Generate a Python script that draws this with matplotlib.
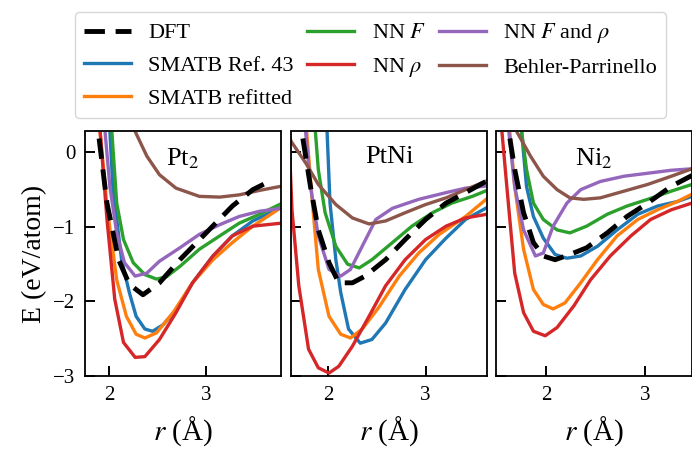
import matplotlib
matplotlib.use("Agg")
import matplotlib.pyplot as plt

plt.rcParams['font.family'] = ['Liberation Serif', 'DejaVu Serif']
plt.rcParams['mathtext.fontset'] = 'stix'

# panel titles and x ranges
titles = ["Pt$_2$", "PtNi", "Ni$_2$"]
xlims = [(1.754, 3.77), (1.62, 3.63), (1.49, 3.48)]

labels = ["DFT", "SMATB Ref. 43", "SMATB refitted", "NN $F$", "NN $\\rho$",
          "NN $F$ and $\\rho$", "Behler-Parrinello"]
colors = ["black", "#1f77b4", "#ff7f0e", "#2ca02c", "#d62728", "#9467bd", "#8c564b"]

# ---- Pt2 ----
pt2_dft_r = [1.86, 1.89, 1.98, 2.10, 2.21, 2.35, 2.52, 2.73, 3.00, 3.27, 3.48, 3.68]
pt2_dft_e = [0.60, 0.28, -0.68, -1.44, -1.77, -1.91, -1.75, -1.44, -1.08, -0.72, -0.50, -0.37]
pt2_ref_r = [2.00, 2.01, 2.04, 2.13, 2.21, 2.28, 2.37, 2.45, 2.56, 2.69, 2.86, 3.07, 3.27, 3.48, 3.77]
pt2_ref_e = [0.60, 0.28, -0.46, -1.44, -1.88, -2.20, -2.37, -2.40, -2.31, -2.11, -1.75, -1.39, -1.12, -0.92, -0.74]
pt2_refit_r = [1.89, 1.91, 1.98, 2.08, 2.18, 2.28, 2.37, 2.49, 2.66, 2.86, 3.07, 3.27, 3.48, 3.77]
pt2_refit_e = [0.55, 0.26, -0.72, -1.71, -2.20, -2.44, -2.49, -2.42, -2.15, -1.75, -1.44, -1.21, -0.99, -0.74]
pt2_nnf_r = [2.02, 2.03, 2.08, 2.15, 2.25, 2.37, 2.49, 2.59, 2.73, 2.93, 3.14, 3.34, 3.55, 3.77]
pt2_nnf_e = [0.50, 0.28, -0.68, -1.17, -1.48, -1.64, -1.70, -1.67, -1.53, -1.30, -1.12, -0.95, -0.83, -0.69]
pt2_nnrho_r = [1.89, 1.91, 1.98, 2.06, 2.15, 2.27, 2.37, 2.52, 2.69, 2.86, 3.07, 3.27, 3.48, 3.77]
pt2_nnrho_e = [0.60, 0.28, -0.90, -1.97, -2.55, -2.75, -2.74, -2.51, -2.15, -1.75, -1.39, -1.12, -0.99, -0.95]
pt2_nnfrho_r = [1.95, 1.96, 2.01, 2.08, 2.16, 2.27, 2.39, 2.52, 2.73, 2.93, 3.14, 3.34, 3.55, 3.77]
pt2_nnfrho_e = [0.50, 0.28, -0.46, -1.08, -1.48, -1.66, -1.62, -1.46, -1.28, -1.10, -0.97, -0.86, -0.79, -0.75]
pt2_bp_r = [2.20, 2.27, 2.39, 2.52, 2.69, 2.93, 3.14, 3.34, 3.55, 3.77]
pt2_bp_e = [0.50, 0.28, -0.05, -0.30, -0.48, -0.59, -0.60, -0.57, -0.51, -0.455]

# ---- PtNi ----
ptni_dft_r = [1.70, 1.73, 1.82, 1.90, 2.01, 2.11, 2.25, 2.38, 2.59, 2.79, 3.00, 3.21, 3.41, 3.62]
ptni_dft_e = [0.60, 0.28, -0.46, -1.04, -1.48, -1.75, -1.75, -1.66, -1.44, -1.17, -0.90, -0.68, -0.54, -0.39]
ptni_ref_r = [1.98, 1.99, 2.02, 2.08, 2.13, 2.21, 2.33, 2.45, 2.59, 2.79, 3.00, 3.21, 3.41, 3.63]
ptni_ref_e = [0.60, 0.28, -0.68, -1.44, -1.88, -2.37, -2.56, -2.51, -2.29, -1.84, -1.44, -1.15, -0.90, -0.74]
ptni_refit_r = [1.76, 1.78, 1.84, 1.90, 2.01, 2.13, 2.23, 2.35, 2.52, 2.73, 2.93, 3.14, 3.41, 3.63]
ptni_refit_e = [0.60, 0.28, -0.68, -1.57, -2.20, -2.44, -2.49, -2.37, -2.08, -1.66, -1.35, -1.10, -0.86, -0.62]
ptni_nnf_r = [1.86, 1.87, 1.90, 1.97, 2.08, 2.20, 2.32, 2.45, 2.66, 2.86, 3.07, 3.27, 3.48, 3.63]
ptni_nnf_e = [0.50, 0.28, -0.23, -0.81, -1.26, -1.50, -1.55, -1.44, -1.21, -0.99, -0.81, -0.68, -0.59, -0.51]
ptni_nnrho_r = [1.58, 1.63, 1.70, 1.80, 1.90, 2.01, 2.11, 2.25, 2.42, 2.59, 2.79, 3.00, 3.21, 3.41, 3.63]
ptni_nnrho_e = [0.80, -0.77, -1.79, -2.64, -2.89, -2.96, -2.87, -2.60, -2.20, -1.79, -1.44, -1.17, -0.99, -0.88, -0.83]
ptni_nnfrho_r = [1.75, 1.77, 1.82, 1.90, 2.01, 2.13, 2.23, 2.35, 2.49, 2.66, 2.93, 3.21, 3.41, 3.63]
ptni_nnfrho_e = [0.60, 0.28, -0.46, -1.12, -1.57, -1.66, -1.57, -1.26, -0.90, -0.75, -0.63, -0.54, -0.48, -0.45]
ptni_bp_r = [1.55, 1.62, 1.77, 1.90, 2.08, 2.25, 2.42, 2.59, 2.79, 3.00, 3.21, 3.41, 3.63]
ptni_bp_e = [0.45, 0.15, -0.14, -0.43, -0.70, -0.88, -0.96, -0.92, -0.81, -0.70, -0.61, -0.50, -0.38]

# ---- Ni2 ----
ni2_dft_r = [1.59, 1.62, 1.68, 1.77, 1.87, 1.97, 2.09, 2.24, 2.41, 2.62, 2.82, 3.03, 3.27, 3.48]
ni2_dft_e = [0.60, 0.28, -0.23, -0.81, -1.21, -1.39, -1.44, -1.37, -1.28, -1.08, -0.86, -0.68, -0.455, -0.31]
ni2_ref_r = [1.73, 1.75, 1.80, 1.87, 1.97, 2.09, 2.21, 2.35, 2.52, 2.72, 2.93, 3.13, 3.33, 3.48]
ni2_ref_e = [0.60, 0.28, -0.46, -0.86, -1.15, -1.37, -1.42, -1.39, -1.26, -1.04, -0.83, -0.72, -0.66, -0.59]
ni2_refit_r = [1.61, 1.63, 1.68, 1.77, 1.87, 1.97, 2.07, 2.19, 2.35, 2.52, 2.72, 2.93, 3.13, 3.33, 3.48]
ni2_refit_e = [0.60, 0.28, -0.46, -1.30, -1.84, -2.04, -2.10, -2.02, -1.75, -1.44, -1.12, -0.90, -0.77, -0.66, -0.56]
ni2_nnf_r = [1.73, 1.75, 1.80, 1.87, 1.97, 2.11, 2.24, 2.41, 2.62, 2.82, 3.03, 3.27, 3.48]
ni2_nnf_e = [0.60, 0.28, -0.23, -0.68, -0.90, -1.04, -1.08, -0.99, -0.83, -0.72, -0.63, -0.52, -0.43]
ni2_nnrho_r = [1.53, 1.55, 1.60, 1.68, 1.77, 1.87, 1.99, 2.11, 2.28, 2.45, 2.65, 2.86, 3.06, 3.27, 3.48]
ni2_nnrho_e = [0.60, 0.28, -0.46, -1.62, -2.15, -2.40, -2.46, -2.35, -2.06, -1.71, -1.39, -1.12, -0.90, -0.77, -0.68]
ni2_nnfrho_r = [1.60, 1.62, 1.68, 1.77, 1.89, 1.97, 2.07, 2.21, 2.35, 2.55, 2.79, 3.03, 3.27, 3.48]
ni2_nnfrho_e = [0.60, 0.28, -0.46, -1.04, -1.39, -1.35, -0.99, -0.68, -0.50, -0.39, -0.32, -0.28, -0.24, -0.22]
ni2_bp_r = [1.65, 1.70, 1.84, 1.97, 2.11, 2.24, 2.38, 2.55, 2.79, 3.03, 3.27, 3.48]
ni2_bp_e = [0.50, 0.28, -0.05, -0.32, -0.50, -0.61, -0.63, -0.61, -0.52, -0.43, -0.32, -0.22]

panels = [
    [(pt2_dft_r, pt2_dft_e), (pt2_ref_r, pt2_ref_e), (pt2_refit_r, pt2_refit_e),
     (pt2_nnf_r, pt2_nnf_e), (pt2_nnrho_r, pt2_nnrho_e), (pt2_nnfrho_r, pt2_nnfrho_e),
     (pt2_bp_r, pt2_bp_e)],
    [(ptni_dft_r, ptni_dft_e), (ptni_ref_r, ptni_ref_e), (ptni_refit_r, ptni_refit_e),
     (ptni_nnf_r, ptni_nnf_e), (ptni_nnrho_r, ptni_nnrho_e), (ptni_nnfrho_r, ptni_nnfrho_e),
     (ptni_bp_r, ptni_bp_e)],
    [(ni2_dft_r, ni2_dft_e), (ni2_ref_r, ni2_ref_e), (ni2_refit_r, ni2_refit_e),
     (ni2_nnf_r, ni2_nnf_e), (ni2_nnrho_r, ni2_nnrho_e), (ni2_nnfrho_r, ni2_nnfrho_e),
     (ni2_bp_r, ni2_bp_e)],
]

fig = plt.figure(figsize=(6.92, 4.5), dpi=100)
lefts = [85 / 692, 291 / 692, 496 / 692]
w = 196 / 692
bottom = 1 - 376 / 450
h = (376 - 131.5) / 450

handles = []
for i in range(3):
    ax = fig.add_axes([lefts[i], bottom, w, h])
    # DFT drawn last so it sits on top
    order = [1, 2, 3, 4, 5, 6, 0]
    for k in order:
        r, e = panels[i][k]
        if k == 0:
            ln, = ax.plot(r, e, color=colors[k], lw=3.5, ls=(0, (4.2, 2.2)), zorder=5)
        else:
            ln, = ax.plot(r, e, color=colors[k], lw=2.4)
        if i == 0:
            handles.append((k, ln))
    ax.set_xlim(*xlims[i])
    ax.set_ylim(-3, 0.28)
    ax.set_xticks([2, 3])
    ax.set_yticks([0, -1, -2, -3])
    ax.tick_params(direction='in', length=7, width=1.4, labelsize=15, pad=7)
    for s in ax.spines.values():
        s.set_linewidth(1.3)
    ax.text(0.5, 0.94, titles[i], transform=ax.transAxes, ha='center', va='top', fontsize=19)
    ax.set_xlabel("$r$ (Å)", fontsize=21, labelpad=7)
    if i == 0:
        ax.set_ylabel("E (eV/atom)", fontsize=20, labelpad=4)
    else:
        ax.set_yticklabels([])

handles.sort(key=lambda t: t[0])
fig.legend([hd for _, hd in handles], labels, loc='upper left',
           bbox_to_anchor=(75 / 692, 1 - 12.5 / 450), ncol=3, fontsize=16,
           handlelength=2.1, columnspacing=0.6, labelspacing=0.55,
           borderaxespad=0, handletextpad=0.8)

fig.savefig("out.png", dpi=100)
